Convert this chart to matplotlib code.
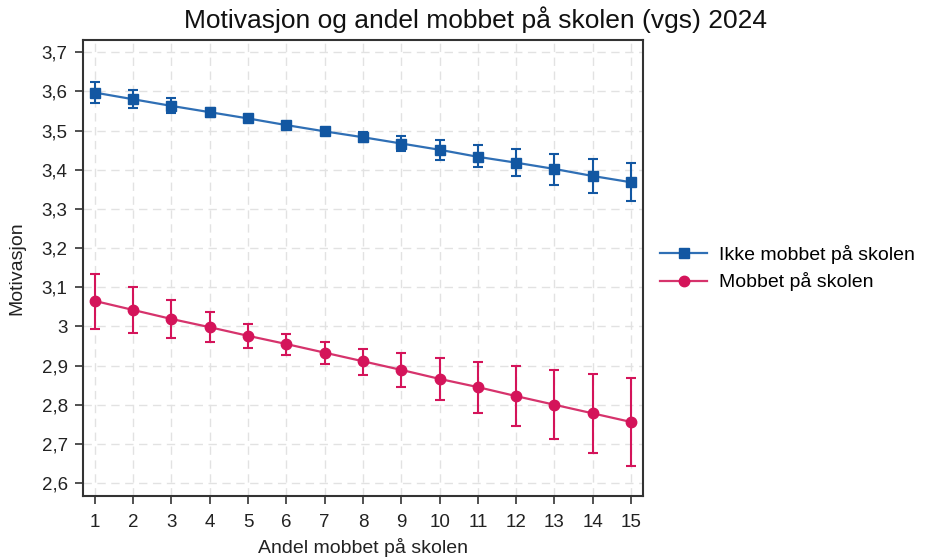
import matplotlib
matplotlib.use("Agg")
import matplotlib.pyplot as plt
from matplotlib.ticker import FuncFormatter

plt.rcParams['font.family'] = ['Liberation Sans', 'DejaVu Sans']

x = list(range(1, 16))
ikke_mean = [3.597, 3.580, 3.563, 3.547, 3.531, 3.514, 3.498, 3.483, 3.467, 3.451,
             3.433, 3.418, 3.402, 3.384, 3.368]
ikke_lo = [3.570, 3.558, 3.546, 3.535, 3.523, 3.507, 3.490, 3.470, 3.447, 3.426,
           3.406, 3.384, 3.362, 3.341, 3.320]
ikke_hi = [3.624, 3.603, 3.583, 3.558, 3.539, 3.521, 3.506, 3.496, 3.486, 3.475,
           3.464, 3.452, 3.440, 3.428, 3.417]

mob_mean = [3.065, 3.042, 3.019, 2.998, 2.976, 2.955, 2.933, 2.911, 2.889, 2.866,
            2.845, 2.822, 2.800, 2.778, 2.756]
mob_lo = [2.993, 2.984, 2.971, 2.960, 2.946, 2.928, 2.904, 2.876, 2.845, 2.813,
          2.779, 2.747, 2.712, 2.678, 2.644]
mob_hi = [3.134, 3.101, 3.068, 3.036, 3.007, 2.980, 2.960, 2.943, 2.931, 2.920,
          2.909, 2.899, 2.889, 2.879, 2.869]

yticks = [2.6, 2.7, 2.8, 2.9, 3.0, 3.1, 3.2, 3.3, 3.4, 3.5, 3.6, 3.7]

title = "Motivasjon og andel mobbet på skolen (vgs) 2024"
xlabel = "Andel mobbet på skolen"
ylabel = "Motivasjon"
labels = ["Ikke mobbet på skolen", "Mobbet på skolen"]

blue = '#1257a2'
blue_line = '#2f6fb5'
red = '#d4145a'
red_line = '#d6336c'

fig = plt.figure(figsize=(9.27, 5.57), dpi=100)
ax = fig.add_axes([0.0895, 0.1095, 0.6041, 0.8185])

def draw(mean, lo, hi, col, lcol, marker, ms, label):
    yerr = [[m - l for m, l in zip(mean, lo)], [h - m for m, h in zip(mean, hi)]]
    ax.errorbar(x, mean, yerr=yerr, fmt='none', ecolor=col, elinewidth=1.5,
                capsize=3.5, capthick=1.5, zorder=3)
    ax.plot(x, mean, color=lcol, lw=1.6, marker=marker, markersize=ms,
            markerfacecolor=col, markeredgecolor=col, label=label, zorder=4)

draw(ikke_mean, ikke_lo, ikke_hi, blue, blue_line, 's', 7, labels[0])
draw(mob_mean, mob_lo, mob_hi, red, red_line, 'o', 7.5, labels[1])

ax.set_xlim(0.69, 15.31)
ax.set_ylim(2.567, 3.731)
ax.set_xticks(x)
ax.set_yticks(yticks)
ax.yaxis.set_major_formatter(FuncFormatter(lambda v, p: ('%g' % round(v, 2)).replace('.', ',')))
ax.tick_params(axis='both', labelsize=13.5, direction='out', length=6, width=1.2,
               color='#333333', labelcolor='#222222', pad=5)
ax.tick_params(axis='x', pad=7)
ax.grid(True, color='#e2e2e2', linestyle=(0, (6, 4)), linewidth=1)
ax.set_axisbelow(True)
for s in ax.spines.values():
    s.set_color('#333333')
    s.set_linewidth(1.5)

fig.text(476 / 927, 1 - 20 / 557, title, fontsize=19, color='#111111',
         ha='center', va='center')
ax.set_xlabel(xlabel, fontsize=14, color='#222222', labelpad=5)
ax.set_ylabel(ylabel, fontsize=14, color='#222222', labelpad=12)

ax.legend(loc='center left', bbox_to_anchor=(1.0, 0.5), frameon=False,
          fontsize=14, handlelength=2.4, handletextpad=0.6, labelspacing=0.45)

fig.savefig('out.png', dpi=100, facecolor='white')
